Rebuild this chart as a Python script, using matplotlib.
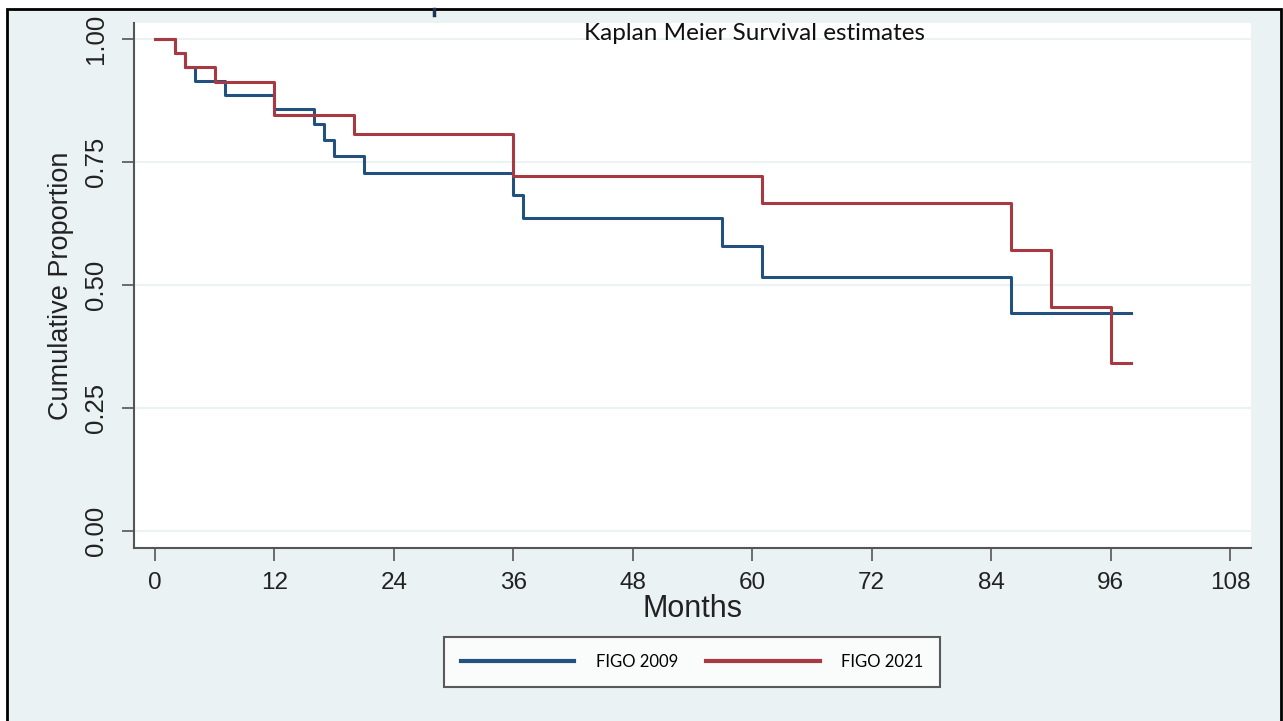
import matplotlib
matplotlib.use("Agg")
import matplotlib.pyplot as plt
from matplotlib.patches import Rectangle
from matplotlib.lines import Line2D

# Kaplan-Meier step values (months, survival)
figo2009_time = [0, 2, 3, 4, 7, 12, 16, 17, 18, 21, 36, 37, 57, 61, 86, 98]
figo2009_surv = [1.0, 0.972, 0.944, 0.915, 0.886, 0.857, 0.828, 0.794, 0.763,
                 0.728, 0.683, 0.637, 0.579, 0.517, 0.442, 0.442]

figo2021_time = [0, 2, 3, 6, 12, 20, 36, 61, 86, 90, 96, 98]
figo2021_surv = [1.0, 0.972, 0.944, 0.912, 0.846, 0.806, 0.722, 0.666,
                 0.571, 0.456, 0.342, 0.342]

series_labels = ["FIGO 2009", "FIGO 2021"]
x_ticks = [0, 12, 24, 36, 48, 60, 72, 84, 96, 108]
y_ticks = [0.0, 0.25, 0.5, 0.75, 1.0]
y_ticklabels = ["0.00", "0.25", "0.50", "0.75", "1.00"]

bg = "#eaf2f3"
blue = "#22517f"
red = "#a83841"
narrow = ["Liberation Sans Narrow", "Liberation Sans", "DejaVu Sans"]
regular = ["Liberation Sans", "DejaVu Sans"]
title_font = ["Lato", "DejaVu Sans"]

W, H = 1283, 721
fig = plt.figure(figsize=(W / 100, H / 100), dpi=100, facecolor="white")

# light bluish panel with black frame (left/top/right)
panel = Rectangle((7 / W, -0.05), (1281 - 7) / W, 1.05 - 9 / H,
                  transform=fig.transFigure, facecolor=bg,
                  edgecolor="black", linewidth=2.0, zorder=0)
fig.add_artist(panel)
# small stray mark on the top edge
fig.add_artist(Line2D([434 / W, 434 / W], [1 - 9 / H, 1 - 15 / H],
                      transform=fig.transFigure, color="#1c3350", linewidth=2.5))

ax = fig.add_axes([134 / W, 1 - 548 / H, (1251 - 134) / W, (548 - 23) / H])
ax.set_facecolor("white")

ax.step(figo2009_time, figo2009_surv, where="post", color=blue,
        linewidth=2.2, label=series_labels[0], zorder=3)
ax.step(figo2021_time, figo2021_surv, where="post", color=red,
        linewidth=2.2, label=series_labels[1], zorder=3)

ax.set_xlim(-2.1, 110.1)
ax.set_ylim(-0.035, 1.0325)

ax.set_yticks(y_ticks)
ax.set_yticklabels(y_ticklabels, rotation=90, va="center", family=narrow,
                   fontsize=18.5)
ax.set_xticks(x_ticks)
ax.set_xticklabels([str(t) for t in x_ticks], family=narrow, fontsize=17.5)
ax.tick_params(axis="y", length=9, width=1.2, color="#555555", pad=10,
               labelcolor="#222222")
ax.tick_params(axis="x", length=9, width=1.2, color="#555555", pad=8,
               labelcolor="#222222")

ax.grid(axis="y", color=bg, linewidth=1.5, zorder=1)
ax.set_axisbelow(True)
for side in ["top", "right"]:
    ax.spines[side].set_visible(False)
for side in ["left", "bottom"]:
    ax.spines[side].set_color("#555555")
    ax.spines[side].set_linewidth(1.5)

ax.set_xlabel("Months", family=regular, fontsize=22, color="#222222",
              labelpad=0)
ax.set_ylabel("Cumulative Proportion", family=regular, fontsize=19.5,
              color="#222222", labelpad=7)

fig.text(755 / W, 1 - 33 / H, "Kaplan Meier Survival estimates",
         family=title_font, fontsize=17.5, ha="center", va="center",
         color="#111111")

leg = ax.legend(loc="center", bbox_to_anchor=(692 / W, 1 - 662 / H),
                bbox_transform=fig.transFigure, ncol=2, frameon=True,
                fancybox=False, prop={"family": title_font, "size": 12},
                handlelength=6.8, handletextpad=1.3, columnspacing=1.7,
                borderpad=1.0, borderaxespad=0)
leg.get_frame().set_edgecolor("#333333")
leg.get_frame().set_linewidth(1.5)
for line in leg.get_lines():
    line.set_linewidth(3)

fig.savefig("out.png", dpi=100, facecolor=fig.get_facecolor())
